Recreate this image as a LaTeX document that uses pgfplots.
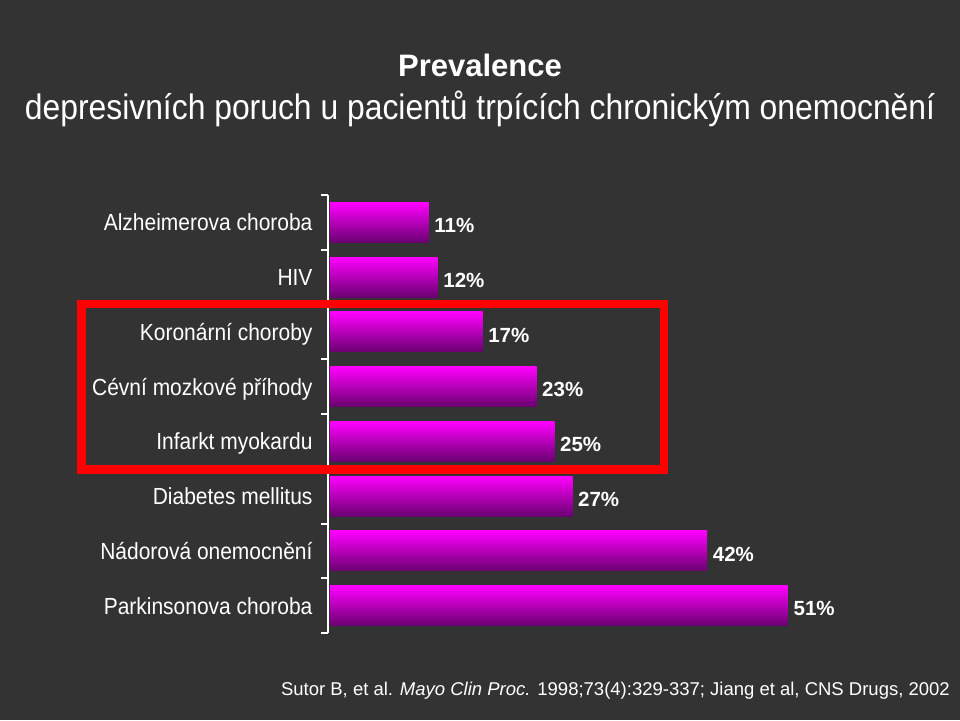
\documentclass[border=0pt]{standalone}
\usepackage{fontspec}
\setmainfont{Liberation Sans}
\newfontfamily\narrow{Liberation Sans}[FakeStretch=0.9]
\usepackage{pgfplots}
\pgfplotsset{compat=1.18}
\definecolor{bg}{RGB}{51,51,51}
\definecolor{magtop}{RGB}{255,0,255}
\definecolor{magmid}{RGB}{205,0,205}
\definecolor{magbot}{RGB}{106,0,112}
\pgfplotsset{barstyle/.style={xbar, draw=none, top color=magtop, middle color=magmid, bottom color=magbot}}
\begin{document}
\begin{tikzpicture}
\fill[bg] (0pt,0pt) rectangle (960pt,720pt);
\node[font=\bfseries\fontsize{31}{31}\selectfont, text=white, anchor=base, inner sep=0] at (480pt,643pt) {Prevalence};
\node[font=\narrow\fontsize{35.4}{35.4}\selectfont, text=white, anchor=base, inner sep=0] at (480pt,600pt) {depresivních poruch u pacientů trpících chronickým onemocnění};
\begin{axis}[
  at={(328pt,87pt)}, anchor=south west,
  scale only axis, width=540.8pt, height=438pt,
  xmin=-0.22, xmax=60, ymin=-0.5, ymax=7.5, y dir=reverse,
  xbar, bar width=40pt, bar shift=0pt, clip=false,
  axis x line=none, axis y line*=left,
  y axis line style={white, line width=2pt, -},
  ytick={0,...,7},
  yticklabels={Alzheimerova choroba, HIV, Koronární choroby, Cévní mozkové příhody, Infarkt myokardu, Diabetes mellitus, Nádorová onemocnění, Parkinsonova choroba},
  major tick length=0pt,
  minor ytick={-0.5,0.5,...,7.5},
  minor tick length=7pt, tick align=outside,
  tick style={white, line width=2pt},
  yticklabel style={font=\narrow\fontsize{23.3}{23.3}\selectfont, text=white, anchor=base east, yshift=-8.5pt, xshift=-12pt},
  point meta=x,
  /pgf/number format/assume math mode=true,
  nodes near coords={\pgfmathprintnumber{\pgfplotspointmeta}\%},
  every node near coord/.append style={font=\bfseries\fontsize{20.5}{20.5}\selectfont, text=white, anchor=base west, yshift=-10.3pt, inner sep=5.5pt},
]
\addplot[barstyle] coordinates {(11,0)};
\addplot[barstyle] coordinates {(12,1)};
\addplot[barstyle] coordinates {(17,2)};
\addplot[barstyle] coordinates {(23,3)};
\addplot[barstyle] coordinates {(25,4)};
\addplot[barstyle] coordinates {(27,5)};
\addplot[barstyle] coordinates {(42,6)};
\addplot[barstyle] coordinates {(51,7)};
\end{axis}
\draw[red, line width=8.5pt] (81.5pt,416pt) rectangle (664pt,250.5pt);
\node[anchor=base east, inner sep=0, font=\fontsize{18.5}{18.5}\selectfont, text=white] at (950pt,25pt) {Sutor B, et al. \textit{Mayo Clin Proc.} 1998;73(4):329-337; Jiang et al, CNS Drugs, 2002};
\end{tikzpicture}
\end{document}
